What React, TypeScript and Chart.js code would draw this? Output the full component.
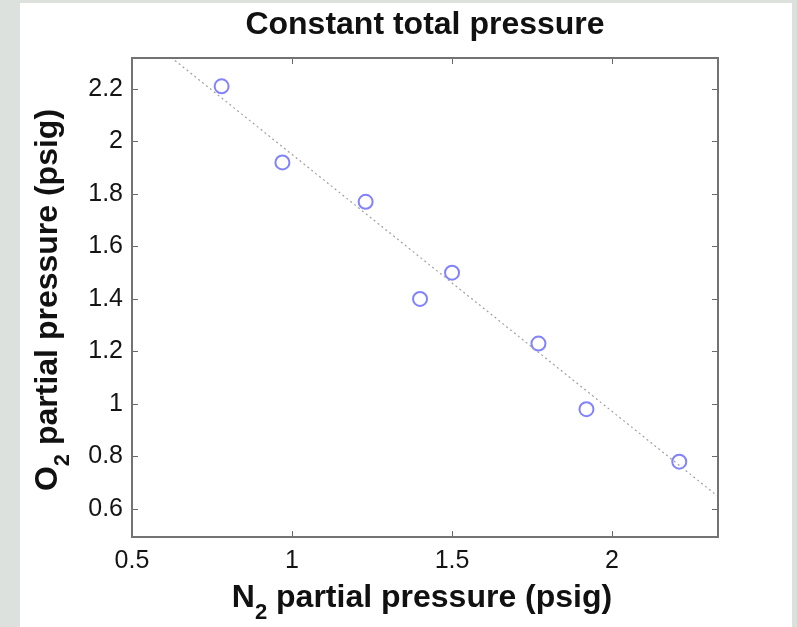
import React, { useEffect, useRef } from "react";
import { Chart, registerables } from "chart.js";

Chart.register(...registerables);

// ---- data ----
const n2Pressure = [0.78, 0.97, 1.23, 1.4, 1.5, 1.77, 1.92, 2.21];
const o2Pressure = [2.21, 1.92, 1.77, 1.4, 1.5, 1.23, 0.98, 0.78];
const fitN2 = [0.5, 2.4];
const fitO2 = [2.44, 0.58];
const xTicks = [0.5, 1, 1.5, 2];
const yTicks = [0.6, 0.8, 1, 1.2, 1.4, 1.6, 1.8, 2, 2.2];
const xRange = [0.5, 2.331];
const yRange = [0.493, 2.318];
const titleText = "Constant total pressure";
const xLabelParts = ["N", "2", " partial pressure (psig)"];
const yLabelParts = ["O", "2", " partial pressure (psig)"];

const FONT = "'Liberation Sans', Arial, Helvetica, sans-serif";

function drawSubscriptLabel(ctx: CanvasRenderingContext2D, parts: string[], cx: number, baseline: number) {
  const mainFont = `bold 32px ${FONT}`;
  const subFont = `bold 22px ${FONT}`;
  ctx.font = mainFont;
  const w0 = ctx.measureText(parts[0]).width;
  const w2 = ctx.measureText(parts[2]).width;
  ctx.font = subFont;
  const w1 = ctx.measureText(parts[1]).width;
  const total = w0 + w1 + w2;
  let x = cx - total / 2;
  ctx.textAlign = "left";
  ctx.textBaseline = "alphabetic";
  ctx.font = mainFont;
  ctx.fillText(parts[0], x, baseline);
  x += w0;
  ctx.font = subFont;
  ctx.fillText(parts[1], x, baseline + 12);
  x += w1;
  ctx.font = mainFont;
  ctx.fillText(parts[2], x, baseline);
}

const matlabAxes = {
  id: "matlabAxes",
  afterDraw(chart: any) {
    const { ctx, chartArea: a, scales } = chart;
    ctx.save();
    const tl = 6;
    ctx.strokeStyle = "#6a6a6a";
    ctx.lineWidth = 1;
    ctx.beginPath();
    scales.x.ticks.forEach((t: any) => {
      const px = Math.round(scales.x.getPixelForValue(t.value)) + 0.5;
      ctx.moveTo(px, a.bottom);
      ctx.lineTo(px, a.bottom - tl);
      ctx.moveTo(px, a.top);
      ctx.lineTo(px, a.top + tl);
    });
    scales.y.ticks.forEach((t: any) => {
      const py = Math.round(scales.y.getPixelForValue(t.value)) + 0.5;
      ctx.moveTo(a.left, py);
      ctx.lineTo(a.left + tl, py);
      ctx.moveTo(a.right, py);
      ctx.lineTo(a.right - tl, py);
    });
    ctx.stroke();
    ctx.lineWidth = 2;
    ctx.strokeStyle = "#737373";
    ctx.strokeRect(a.left, a.top, a.right - a.left, a.bottom - a.top);

    ctx.fillStyle = "#111";
    ctx.font = `bold 32px ${FONT}`;
    ctx.textAlign = "center";
    ctx.textBaseline = "alphabetic";
    ctx.fillText(titleText, (a.left + a.right) / 2, 34);

    drawSubscriptLabel(ctx, xLabelParts, 422, 607);

    ctx.translate(57, 300);
    ctx.rotate(-Math.PI / 2);
    drawSubscriptLabel(ctx, yLabelParts, 0, 0);
    ctx.restore();
  },
};

export default function App() {
  const canvasRef = useRef<HTMLCanvasElement | null>(null);

  useEffect(() => {
    if (!canvasRef.current) return;
    const chart = new Chart(canvasRef.current, {
      type: "scatter",
      data: {
        datasets: [
          {
            type: "line",
            data: fitN2.map((x, i) => ({ x, y: fitO2[i] })),
            borderColor: "#a0a0a0",
            borderWidth: 1.2,
            borderDash: [2, 3],
            pointRadius: 0,
            fill: false,
          } as any,
          {
            data: n2Pressure.map((x, i) => ({ x, y: o2Pressure[i] })),
            pointStyle: "circle",
            pointRadius: 7,
            pointHoverRadius: 7,
            borderWidth: 2,
            borderColor: "#8282ff",
            pointBackgroundColor: "rgba(0,0,0,0)",
            backgroundColor: "rgba(0,0,0,0)",
            showLine: false,
          },
        ],
      },
      options: {
        responsive: false,
        animation: false,
        devicePixelRatio: 1,
        layout: { padding: { top: 58, right: 79, left: 0, bottom: 0 } },
        plugins: {
          legend: { display: false },
          tooltip: { enabled: false },
          title: { display: false },
        },
        scales: {
          x: {
            type: "linear",
            min: xRange[0],
            max: xRange[1],
            grid: { display: false, drawTicks: false },
            border: { display: false },
            afterBuildTicks: (s: any) => {
              s.ticks = xTicks.map((v) => ({ value: v }));
            },
            afterFit: (s: any) => {
              s.height = 90;
            },
            ticks: {
              autoSkip: false,
              maxRotation: 0,
              padding: 9,
              color: "#141414",
              font: { family: FONT, size: 25 },
              callback: (v: any) => String(Number(v)),
            },
          },
          y: {
            type: "linear",
            min: yRange[0],
            max: yRange[1],
            grid: { display: false, drawTicks: false },
            border: { display: false },
            afterBuildTicks: (s: any) => {
              s.ticks = yTicks.map((v) => ({ value: v }));
            },
            afterFit: (s: any) => {
              s.width = 132;
            },
            ticks: {
              autoSkip: false,
              padding: 9,
              color: "#141414",
              font: { family: FONT, size: 25 },
              callback: (v: any) => String(Number(v)),
            },
          },
        },
      },
      plugins: [matlabAxes],
    } as any);
    return () => chart.destroy();
  }, []);

  return (
    <div style={{ position: "absolute", left: 0, top: 0, width: 797, height: 627, background: "#dde1dd", overflow: "hidden" }}>
      <div style={{ position: "absolute", left: 20, top: 3, width: 772, height: 624, background: "#ffffff" }} />
      <canvas ref={canvasRef} width={797} height={627} style={{ position: "absolute", left: 0, top: 0, display: "block" }} />
    </div>
  );
}
